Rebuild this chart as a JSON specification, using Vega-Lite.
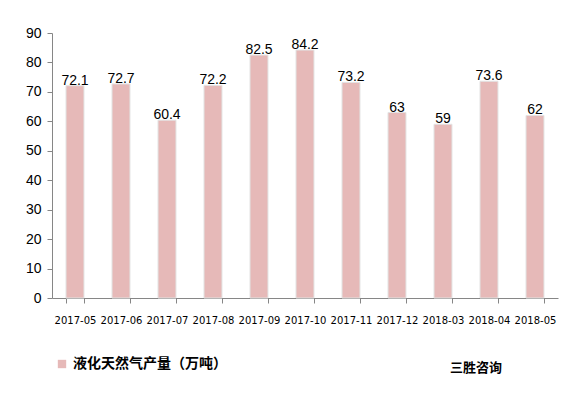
{
  "$schema": "https://vega.github.io/schema/vega-lite/v6.json",
  "width": 506,
  "height": 265,
  "autosize": {"type": "none"},
  "padding": {"left": 52, "top": 33, "right": 10, "bottom": 95},
  "background": "white",
  "config": {
    "view": {"stroke": null},
    "font": "Liberation Sans"
  },
  "title": {
    "text": "三胜咨询",
    "orient": "bottom",
    "anchor": "end",
    "offset": -9,
    "dx": -56,
    "fontSize": 13,
    "fontWeight": "bold",
    "font": "Noto Sans CJK SC",
    "color": "#000000"
  },
  "data": {
    "values": [
      {"month": "2017-05", "value": 72.1, "series": "液化天然气产量（万吨）"},
      {"month": "2017-06", "value": 72.7, "series": "液化天然气产量（万吨）"},
      {"month": "2017-07", "value": 60.4, "series": "液化天然气产量（万吨）"},
      {"month": "2017-08", "value": 72.2, "series": "液化天然气产量（万吨）"},
      {"month": "2017-09", "value": 82.5, "series": "液化天然气产量（万吨）"},
      {"month": "2017-10", "value": 84.2, "series": "液化天然气产量（万吨）"},
      {"month": "2017-11", "value": 73.2, "series": "液化天然气产量（万吨）"},
      {"month": "2017-12", "value": 63, "series": "液化天然气产量（万吨）"},
      {"month": "2018-03", "value": 59, "series": "液化天然气产量（万吨）"},
      {"month": "2018-04", "value": 73.6, "series": "液化天然气产量（万吨）"},
      {"month": "2018-05", "value": 62, "series": "液化天然气产量（万吨）"}
    ]
  },
  "encoding": {
    "x": {
      "field": "month",
      "type": "ordinal",
      "sort": null,
      "scale": {"paddingInner": 0.61, "paddingOuter": 0.305},
      "axis": {
        "title": null,
        "labelAngle": 0,
        "labelFontSize": 10,
        "labelFont": "DejaVu Sans",
        "labelColor": "#000000",
        "labelPadding": 12,
        "domainColor": "#868686",
        "tickColor": "#868686",
        "tickBand": "extent",
        "tickSize": 5
      }
    },
    "y": {
      "field": "value",
      "type": "quantitative",
      "scale": {"domain": [0, 90]},
      "axis": {
        "title": null,
        "values": [0, 10, 20, 30, 40, 50, 60, 70, 80, 90],
        "grid": false,
        "labelFontSize": 14,
        "labelColor": "#000000",
        "labelPadding": 6,
        "domainColor": "#868686",
        "tickColor": "#868686",
        "tickSize": 5
      }
    }
  },
  "layer": [
    {
      "mark": {"type": "bar", "stroke": "#E3E3E3", "strokeWidth": 1},
      "encoding": {
        "color": {
          "field": "series",
          "type": "nominal",
          "scale": {"range": ["#E6B9B8"]},
          "legend": {
            "title": null,
            "orient": "none",
            "legendX": 3,
            "legendY": 324,
            "symbolType": "square",
            "symbolSize": 70,
            "symbolStrokeWidth": 0,
            "labelOffset": 4,
            "labelFontSize": 14,
            "labelFont": "Noto Sans CJK SC",
            "labelFontWeight": "bold",
            "labelColor": "#000000",
            "labelLimit": 300
          }
        }
      }
    },
    {
      "mark": {"type": "text", "baseline": "alphabetic", "dy": -1, "fontSize": 14, "color": "#000000"},
      "encoding": {"text": {"field": "value", "type": "quantitative"}}
    }
  ]
}
